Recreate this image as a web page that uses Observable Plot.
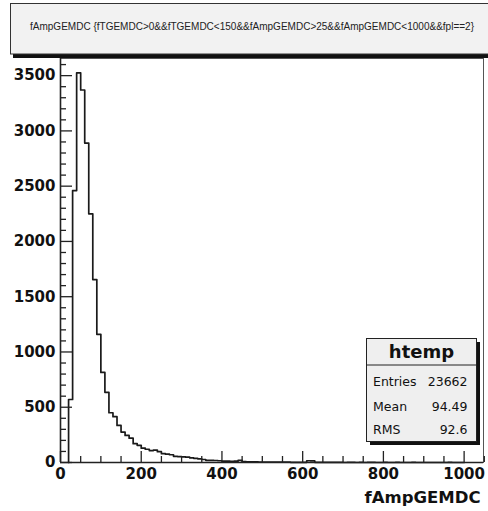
<!DOCTYPE html>
<html><head><meta charset="utf-8">
<script src="https://cdn.jsdelivr.net/npm/d3@7"></script>
<script src="https://cdn.jsdelivr.net/npm/@observablehq/plot@0.6"></script>
<style>
html,body{margin:0;padding:0;background:#fff;}
#chart{position:relative;width:488px;height:511px;}
</style></head><body><div id="chart"></div>
<script>
// ---- data ----
const binStart = 20;
const binWidth = 10;
const counts = [
  570, 2460, 3525, 3370, 2890, 2250, 1655, 1160, 815, 635,
  450, 415, 335, 275, 245, 220, 170, 155, 130, 120,
  108, 112, 98, 80, 75, 70, 56, 54, 50, 48,
  42, 38, 33, 27, 20, 19, 18, 16, 13, 12,
  11, 12, 20, 8, 6, 5, 5, 4, 4, 4,
  3, 3, 3, 3, 3, 2, 2, 2, 2, 16,
  14, 2, 1, 1, 2, 1, 1, 1, 0, 1,
  1, 0, 1, 0, 1, 1, 0, 0, 1, 0,
  0, 1, 0, 0, 0, 1, 0, 0, 0, 0,
  0, 0, 0, 0, 1, 0, 0, 0
];
const xMajorTicks = [0, 200, 400, 600, 800, 1000];
const xMinorTicks = [50, 100, 150, 250, 300, 350, 450, 500, 550, 650, 700, 750, 850, 900, 950, 1050];
const yMajorTicks = [0, 500, 1000, 1500, 2000, 2500, 3000, 3500];
const yMinorTicks = [100, 200, 300, 400, 600, 700, 800, 900, 1100, 1200, 1300, 1400, 1600, 1700, 1800, 1900,
  2100, 2200, 2300, 2400, 2600, 2700, 2800, 2900, 3100, 3200, 3300, 3400, 3600];
const titleText = "fAmpGEMDC {fTGEMDC>0&&fTGEMDC<150&&fAmpGEMDC>25&&fAmpGEMDC<1000&&fpl==2}";
const xLabel = "fAmpGEMDC";
const statsName = "htemp";
const statLabels = ["Entries", "Mean", "RMS"];
const statValues = ["23662", "94.49", "92.6"];

// ---- layout ----
const W = 488, H = 511, mL = 60, mR = 5, mT = 58, mB = 49;
const fw = W - mL - mR, fh = H - mT - mB;
const tickFont = {fontFamily: "DejaVu Sans", fontWeight: "bold", fontSize: 15, fill: "#111"};

const steps = [{x: binStart, y: 0}]
  .concat(counts.map((c, i) => ({x: binStart + i * binWidth, y: c})))
  .concat([{x: binStart + counts.length * binWidth, y: 0}]);

const plot = Plot.plot({
  width: W, height: H,
  marginLeft: mL, marginRight: mR, marginTop: mT, marginBottom: mB,
  x: {domain: [0, 1048]},
  y: {domain: [0, 3655]},
  style: {background: "#fff", color: "#111"},
  marks: [
    Plot.frame({stroke: "#555", strokeWidth: 1}),
    Plot.line(steps, {x: "x", y: "y", curve: "step-after", stroke: "#1a1a1a", strokeWidth: 1.7}),
    Plot.tickX(xMajorTicks, {x: d => d, insetTop: fh - 11, stroke: "#222", strokeWidth: 1.3}),
    Plot.tickX(xMinorTicks, {x: d => d, insetTop: fh - 6, stroke: "#222", strokeWidth: 1.3}),
    Plot.tickY(yMajorTicks, {y: d => d, insetRight: fw - 12, stroke: "#222", strokeWidth: 1.3}),
    Plot.tickY(yMinorTicks, {y: d => d, insetRight: fw - 6, stroke: "#222", strokeWidth: 1.3}),
    Plot.ruleX([0], {stroke: "#222", strokeWidth: 1.6}),
    Plot.ruleY([0], {stroke: "#222", strokeWidth: 1.6}),
    Plot.axisX({ticks: xMajorTicks, tickSize: 0, tickPadding: 6, tickFormat: d => String(d), label: null, ...tickFont}),
    Plot.axisY({ticks: yMajorTicks, tickSize: 0, tickPadding: 5, tickFormat: d => String(d), label: null, ...tickFont}),
    Plot.text([xLabel], {text: d => d, frameAnchor: "bottom-right", textAnchor: "end", lineAnchor: "top",
      dx: -3, dy: 29, fontFamily: "DejaVu Sans", fontWeight: "bold", fontSize: 16.5, fill: "#111"})
  ]
});
document.getElementById("chart").appendChild(plot);

// ---- title pave ----
const svg = d3.select(plot);
const tg = svg.append("g");
tg.append("rect").attr("x", 13).attr("y", 7).attr("width", 490).attr("height", 51).attr("fill", "#111");
tg.append("rect").attr("x", 10.5).attr("y", 3.5).attr("width", 490).attr("height", 50.5)
  .attr("fill", "#f2f2f2").attr("stroke", "#333").attr("stroke-width", 1);
tg.append("text").attr("x", 252).attr("y", 29.5).attr("text-anchor", "middle")
  .attr("font-family", "Liberation Sans").attr("font-size", 10).attr("fill", "#222")
  .attr("textLength", 444).attr("lengthAdjust", "spacingAndGlyphs")
  .text(titleText);

// ---- stats pave ----
const bx = 366.5, by = 338.5, bw = 110, bh = 103;
const sg = svg.append("g");
sg.append("rect").attr("x", bx + 3.5).attr("y", by + 3.5).attr("width", bw).attr("height", bh).attr("fill", "#111");
sg.append("rect").attr("x", bx).attr("y", by).attr("width", bw).attr("height", bh)
  .attr("fill", "#efefef").attr("stroke", "#222").attr("stroke-width", 1);
sg.append("line").attr("x1", bx).attr("x2", bx + bw).attr("y1", 365).attr("y2", 365)
  .attr("stroke", "#222").attr("stroke-width", 1);
sg.append("text").attr("x", bx + bw / 2).attr("y", 358).attr("text-anchor", "middle")
  .attr("font-family", "DejaVu Sans").attr("font-weight", "bold").attr("font-size", 18).attr("fill", "#111")
  .text(statsName);
const rowY = [386, 411, 434];
statLabels.forEach((lab, i) => {
  sg.append("text").attr("x", 373).attr("y", rowY[i]).attr("text-anchor", "start")
    .attr("font-family", "DejaVu Sans").attr("font-size", 12.5).attr("fill", "#111").text(lab);
  sg.append("text").attr("x", 467.5).attr("y", rowY[i]).attr("text-anchor", "end")
    .attr("font-family", "DejaVu Sans").attr("font-size", 12.5).attr("fill", "#111").text(statValues[i]);
});
</script>
</body></html>
